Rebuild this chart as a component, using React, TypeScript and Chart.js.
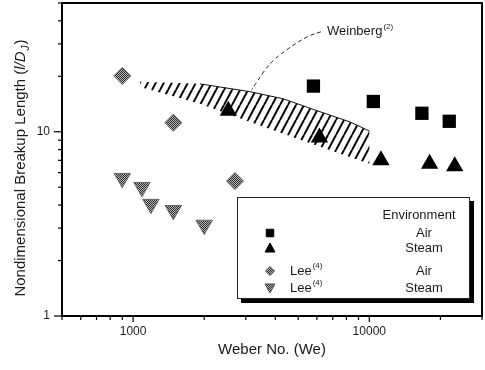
import React, { useEffect, useRef } from 'react';
import { Chart, registerables } from 'chart.js';
Chart.register(...registerables);

const FONT = "'Liberation Sans', Arial, Helvetica, sans-serif";

// ---- data ----
const airX = [5800, 10400, 16700, 21800];
const airY = [17.7, 14.6, 12.6, 11.4];
const steamX = [2530, 6150, 11200, 18000, 23000];
const steamY = [13.0, 9.3, 7.0, 6.7, 6.5];
const leeAirX = [900, 1480, 2700];
const leeAirY = [20.1, 11.2, 5.4];
const leeSteamX = [900, 1090, 1190, 1480, 2000];
const leeSteamY = [5.6, 5.0, 4.05, 3.75, 3.12];
const bandUpperX = [1070, 1920, 3130, 4320, 6020, 8300, 10000];
const bandUpperY = [18.7, 18.2, 16.5, 15.1, 13.0, 11.3, 10.1];
const bandLowerX = [1070, 1920, 3130, 6020, 10000];
const bandLowerY = [17.5, 14.2, 11.3, 8.4, 6.7];
const leaderX = [6240, 5445, 4550, 3930, 3565, 3340, 3180];
const leaderY = [34.9, 32.7, 28.3, 24.4, 21.1, 18.6, 16.95];
const labelAnchorX = [6620];
const labelAnchorY = [35.0];

const xTicks = [500, 600, 700, 800, 900, 1000, 2000, 3000, 4000, 5000, 6000, 7000, 8000, 9000, 10000, 20000, 30000];
const yTicks = [1, 2, 3, 4, 5, 6, 7, 8, 9, 10, 20, 30, 40, 50];
const xLabelled = [1000, 10000];
const yLabelled = [1, 10];

const xTitle = 'Weber No. (We)';
const yTitleMain = 'Nondimensional Breakup Length (';
const yTitleItalic = 'l/D';
const yTitleSub = 'J';
const yTitleEnd = ')';
const weinbergText = 'Weinberg';
const weinbergRef = '(2)';
const legendHeader = 'Environment';
const legendMarkers = ['square', 'triangle', 'diamond', 'down'];
const legendAuthors = ['', '', 'Lee', 'Lee'];
const legendRefs = ['', '', '(4)', '(4)'];
const legendEnv = ['Air', 'Steam', 'Air', 'Steam'];

const pts = (xs: number[], ys: number[]) => xs.map((x, i) => ({ x, y: ys[i] }));

function makeHatch(): CanvasPattern {
  const c = document.createElement('canvas');
  c.width = 8;
  c.height = 15;
  const g = c.getContext('2d')!;
  g.strokeStyle = '#000';
  g.lineWidth = 2;
  for (const off of [-8, 0, 8]) {
    g.beginPath();
    g.moveTo(off, 15);
    g.lineTo(off + 8, 0);
    g.stroke();
  }
  return g.createPattern(c, 'repeat')!;
}

function makeGray(): CanvasPattern {
  const c = document.createElement('canvas');
  c.width = 2;
  c.height = 2;
  const g = c.getContext('2d')!;
  g.fillStyle = '#b4b4b4';
  g.fillRect(0, 0, 2, 2);
  g.fillStyle = '#2e2e2e';
  g.fillRect(0, 0, 1, 1);
  g.fillRect(1, 1, 1, 1);
  return g.createPattern(c, 'repeat')!;
}

function drawMarker(ctx: CanvasRenderingContext2D, kind: string, x: number, y: number, s: number, fill: any, stroke: string) {
  ctx.beginPath();
  if (kind === 'square') {
    ctx.rect(x - s / 2, y - s / 2, s, s);
  } else if (kind === 'triangle') {
    ctx.moveTo(x, y - s * 0.55);
    ctx.lineTo(x + s * 0.55, y + s * 0.45);
    ctx.lineTo(x - s * 0.55, y + s * 0.45);
    ctx.closePath();
  } else if (kind === 'diamond') {
    ctx.moveTo(x, y - s / 2);
    ctx.lineTo(x + s / 2, y);
    ctx.lineTo(x, y + s / 2);
    ctx.lineTo(x - s / 2, y);
    ctx.closePath();
  } else {
    ctx.moveTo(x, y + s * 0.55);
    ctx.lineTo(x + s * 0.55, y - s * 0.45);
    ctx.lineTo(x - s * 0.55, y - s * 0.45);
    ctx.closePath();
  }
  ctx.fillStyle = fill;
  ctx.fill();
  ctx.strokeStyle = stroke;
  ctx.lineWidth = 1;
  ctx.stroke();
}

export default function App() {
  const ref = useRef<HTMLCanvasElement>(null);
  useEffect(() => {
    document.body.style.margin = '0';
    const canvas = ref.current!;
    const hatch = makeHatch();
    const gray = makeGray();

    const polygon = [...pts(bandUpperX, bandUpperY), ...pts(bandLowerX, bandLowerY).reverse()];
    polygon.push({ ...polygon[0] });

    const decor = {
      id: 'decor',
      afterDraw(chart: any) {
        const ctx: CanvasRenderingContext2D = chart.ctx;
        const xs = chart.scales.x;
        const ys = chart.scales.y;
        const { left, right, top, bottom } = chart.chartArea;
        ctx.save();
        // ticks
        ctx.strokeStyle = '#000';
        ctx.lineWidth = 1.2;
        for (const v of xTicks) {
          const px = xs.getPixelForValue(v);
          const len = xLabelled.includes(v) ? 6 : 4;
          ctx.beginPath();
          ctx.moveTo(px, bottom);
          ctx.lineTo(px, bottom + len);
          ctx.stroke();
        }
        for (const v of yTicks) {
          const py = ys.getPixelForValue(v);
          const len = yLabelled.includes(v) ? 8 : 4;
          ctx.beginPath();
          ctx.moveTo(left - len, py);
          ctx.lineTo(left, py);
          ctx.stroke();
        }
        // frame
        ctx.lineWidth = 2;
        ctx.strokeRect(left, top, right - left, bottom - top);

        ctx.fillStyle = '#1a1a1a';
        // tick labels
        ctx.font = `12px ${FONT}`;
        ctx.textAlign = 'center';
        ctx.textBaseline = 'middle';
        for (const v of xLabelled) {
          ctx.fillText(String(v), xs.getPixelForValue(v), bottom + 16);
        }
        ctx.textAlign = 'right';
        for (const v of yLabelled) {
          ctx.fillText(String(v), left - 12, ys.getPixelForValue(v));
        }

        // x title
        ctx.font = `15px ${FONT}`;
        ctx.textAlign = 'center';
        ctx.fillText(xTitle, 272, 350);

        // y title (rotated)
        ctx.save();
        ctx.translate(21, 168);
        ctx.rotate(-Math.PI / 2);
        ctx.textAlign = 'left';
        ctx.textBaseline = 'middle';
        const fMain = `15px ${FONT}`;
        const fIt = `italic 15px ${FONT}`;
        const fSub = `italic 10px ${FONT}`;
        ctx.font = fMain;
        const w1 = ctx.measureText(yTitleMain).width;
        const w4 = ctx.measureText(yTitleEnd).width;
        ctx.font = fIt;
        const w2 = ctx.measureText(yTitleItalic).width;
        ctx.font = fSub;
        const w3 = ctx.measureText(yTitleSub).width;
        let cx = -(w1 + w2 + w3 + w4 + 2) / 2;
        ctx.font = fMain;
        ctx.fillText(yTitleMain, cx, 0);
        cx += w1;
        ctx.font = fIt;
        ctx.fillText(yTitleItalic, cx, 0);
        cx += w2 + 1;
        ctx.font = fSub;
        ctx.fillText(yTitleSub, cx, 5);
        cx += w3 + 1;
        ctx.font = fMain;
        ctx.fillText(yTitleEnd, cx, 0);
        ctx.restore();

        // Weinberg label
        const lx = xs.getPixelForValue(labelAnchorX[0]);
        const ly = ys.getPixelForValue(labelAnchorY[0]);
        ctx.font = `13px ${FONT}`;
        ctx.textAlign = 'left';
        ctx.textBaseline = 'middle';
        ctx.fillText(weinbergText, lx, ly);
        const ww = ctx.measureText(weinbergText).width;
        ctx.font = `8px ${FONT}`;
        ctx.fillText(weinbergRef, lx + ww + 1, ly - 5);

        // legend box
        const bx = 237, by = 197, bw = 232, bh = 101;
        ctx.fillStyle = '#000';
        ctx.fillRect(bx + 4, by + 4, bw + 1, bh + 1);
        ctx.fillStyle = '#fff';
        ctx.fillRect(bx, by, bw, bh);
        ctx.strokeStyle = '#222';
        ctx.lineWidth = 1;
        ctx.strokeRect(bx + 0.5, by + 0.5, bw, bh);

        ctx.fillStyle = '#1a1a1a';
        ctx.font = `13px ${FONT}`;
        ctx.textAlign = 'center';
        ctx.fillText(legendHeader, 419, 215);
        const rowY = [233, 248, 271, 288];
        const sizes = [7.5, 9, 9, 9];
        legendMarkers.forEach((m, i) => {
          const fill = i < 2 ? '#000' : gray;
          const stroke = i < 2 ? '#000' : '#555';
          drawMarker(ctx, m, 270, rowY[i], sizes[i], fill, stroke);
          ctx.fillStyle = '#1a1a1a';
          ctx.font = `13px ${FONT}`;
          ctx.textAlign = 'center';
          ctx.fillText(legendEnv[i], 424, rowY[i]);
          if (legendAuthors[i]) {
            ctx.textAlign = 'left';
            ctx.fillText(legendAuthors[i], 290, rowY[i]);
            const aw = ctx.measureText(legendAuthors[i]).width;
            ctx.font = `8px ${FONT}`;
            ctx.fillText(legendRefs[i], 290 + aw + 1, rowY[i] - 5);
          }
        });
        ctx.restore();
      },
    };

    const chart = new Chart(canvas, {
      type: 'scatter',
      data: {
        datasets: [
          {
            data: pts(airX, airY),
            pointStyle: 'rect',
            pointRadius: 9.4,
            backgroundColor: '#000',
            borderColor: '#000',
            borderWidth: 0,
          },
          {
            data: pts(steamX, steamY),
            pointStyle: 'triangle',
            pointRadius: 10,
            backgroundColor: '#000',
            borderColor: '#000',
            borderWidth: 0,
          },
          {
            data: pts(leeAirX, leeAirY),
            pointStyle: 'rectRot',
            pointRadius: 8.5,
            backgroundColor: gray,
            borderColor: '#666',
            borderWidth: 1,
          },
          {
            data: pts(leeSteamX, leeSteamY),
            pointStyle: 'triangle',
            rotation: 180,
            pointRadius: 9.5,
            backgroundColor: gray,
            borderColor: '#666',
            borderWidth: 1,
          },
          {
            data: pts(leaderX, leaderY),
            showLine: true,
            borderColor: '#222',
            borderWidth: 1,
            borderDash: [4, 3],
            tension: 0.4,
            pointRadius: 0,
            fill: false,
          },
          {
            data: pts(bandUpperX.slice(1), bandUpperY.slice(1)),
            showLine: true,
            borderColor: '#111',
            borderWidth: 1,
            pointRadius: 0,
            fill: false,
          },
          {
            data: polygon,
            showLine: true,
            borderWidth: 0,
            borderColor: 'rgba(0,0,0,0)',
            backgroundColor: hatch,
            pointRadius: 0,
            fill: 'shape',
          },
        ],
      } as any,
      options: {
        responsive: false,
        animation: false,
        devicePixelRatio: 1,
        events: [],
        layout: { autoPadding: false, padding: { top: 3, right: 3, left: 0, bottom: 0 } },
        plugins: { legend: { display: false }, tooltip: { enabled: false } },
        scales: {
          x: {
            type: 'logarithmic',
            min: 500,
            max: 30000,
            afterBuildTicks: (s: any) => {
              s.ticks = xTicks.map((v) => ({ value: v }));
            },
            afterFit: (s: any) => {
              s.height = 54;
            },
            grid: { display: false, drawTicks: false },
            border: { display: false },
            ticks: { display: false },
          },
          y: {
            type: 'logarithmic',
            min: 1,
            max: 50,
            afterBuildTicks: (s: any) => {
              s.ticks = yTicks.map((v) => ({ value: v }));
            },
            afterFit: (s: any) => {
              s.width = 62;
            },
            grid: { display: false, drawTicks: false },
            border: { display: false },
            ticks: { display: false },
          },
        },
      } as any,
      plugins: [decor],
    });
    return () => chart.destroy();
  }, []);
  return (
    <div style={{ position: 'absolute', left: 0, top: 0, width: 485, height: 370, background: '#fff' }}>
      <canvas ref={ref} width={485} height={370} style={{ display: 'block', width: 485, height: 370 }} />
    </div>
  );
}
